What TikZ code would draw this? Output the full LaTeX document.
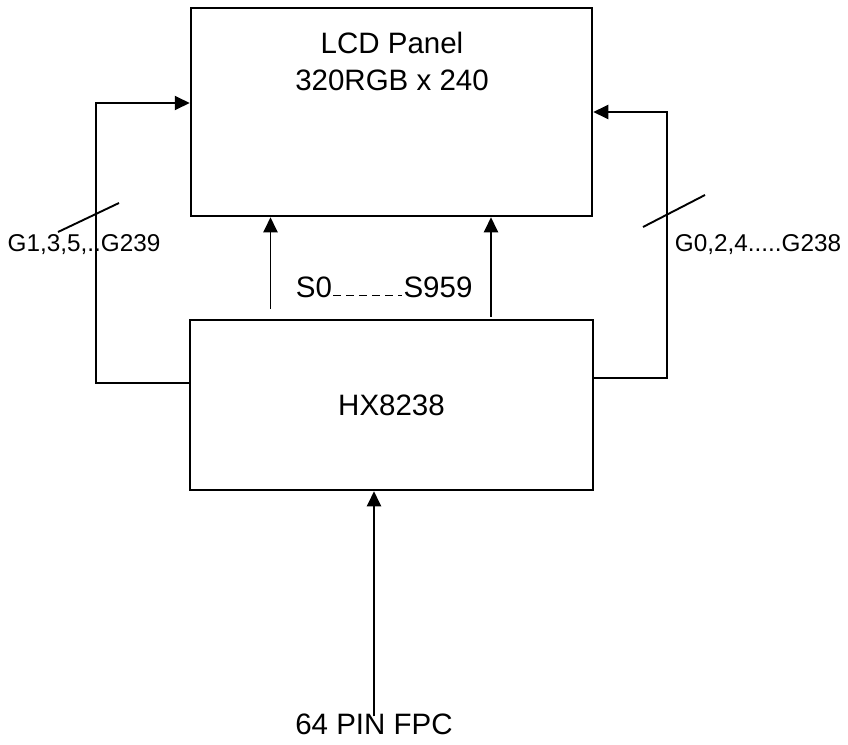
\documentclass[tikz,border=0pt]{standalone}
\usepackage{fontspec}
\setmainfont{Liberation Sans}
\usepackage{tikz}
\usetikzlibrary{arrows.meta,positioning,calc}
\tikzset{
  % Block boxes
  blk/.style={rectangle, draw=black, line width=2.5pt, fill=white,
              inner sep=0pt},
  % Texts
  bigtxt/.style={font=\fontsize{29.5}{37}\selectfont, align=center, inner sep=1pt},
  gtxt/.style ={font=\fontsize{24.3}{28}\selectfont, inner sep=1pt},
  % Arrows
  arr/.style  ={-{Triangle[length=15pt,width=14pt]}, line width=1.9pt},
  bus/.style  ={line width=1.9pt},
}

\begin{document}
\begin{tikzpicture}[x=1pt,y=-1pt]
  \useasboundingbox (0,0) rectangle (848,744);

    % ── Blocks ─────────────────────────────────────────────
    \node[blk, minimum width=401pt, minimum height=208pt] (lcd) at (391.5,112) {};
    \node[bigtxt] (lcdtxt) at (392,61) {LCD Panel\\320RGB x 240};
    \node[blk, minimum width=403pt, minimum height=170pt] (hx) at (391.5,405) {};
    \node[bigtxt] (hxtxt) at (hx.center) {HX8238};

    % ── Gate lines, left ───────────────────────────────────
    \draw[arr] ([yshift=22pt]hx.west) -- ++(-93,0) coordinate (gl)
          |- ([yshift=9pt]lcd.west);
    \draw[bus] (58,232) -- (119,203);
    \node[gtxt] (godd) at (84,245) {G1,3,5,..G239};

    % ── Gate lines, right ──────────────────────────────────
    \draw[arr] ([yshift=27pt]hx.east) -- ++(73,0) coordinate (gr)
          |- (lcd.east);
    \draw[bus] (643,227) -- (705,195);
    \node[gtxt] (geven) at (758,245) {G0,2,4.....G238};

    % ── Source lines ──────────────────────────────────────
    \draw[arr] ([xshift=-121pt,yshift=10pt]hx.north) -- ([xshift=-121pt]lcd.south);
    \draw[arr] ([xshift=99.5pt,yshift=2pt]hx.north) -- ([xshift=99.5pt]lcd.south);
    \node[bigtxt] (s0) at (314,287) {S0};
    \node[bigtxt] (s959) at (438,287) {S959};
    \draw[line width=1pt, dash pattern=on 8pt off 5pt]
          ([yshift=2pt]s0.base east) -- ([yshift=2pt]s959.base west);

    % ── Interface ─────────────────────────────────────────
    \node[bigtxt] (fpc) at (374,724) {64 PIN FPC};
    \draw[arr] ([yshift=-4pt]fpc.north) -- (fpc.north |- hx.south);

  \end{tikzpicture}
\end{document}
